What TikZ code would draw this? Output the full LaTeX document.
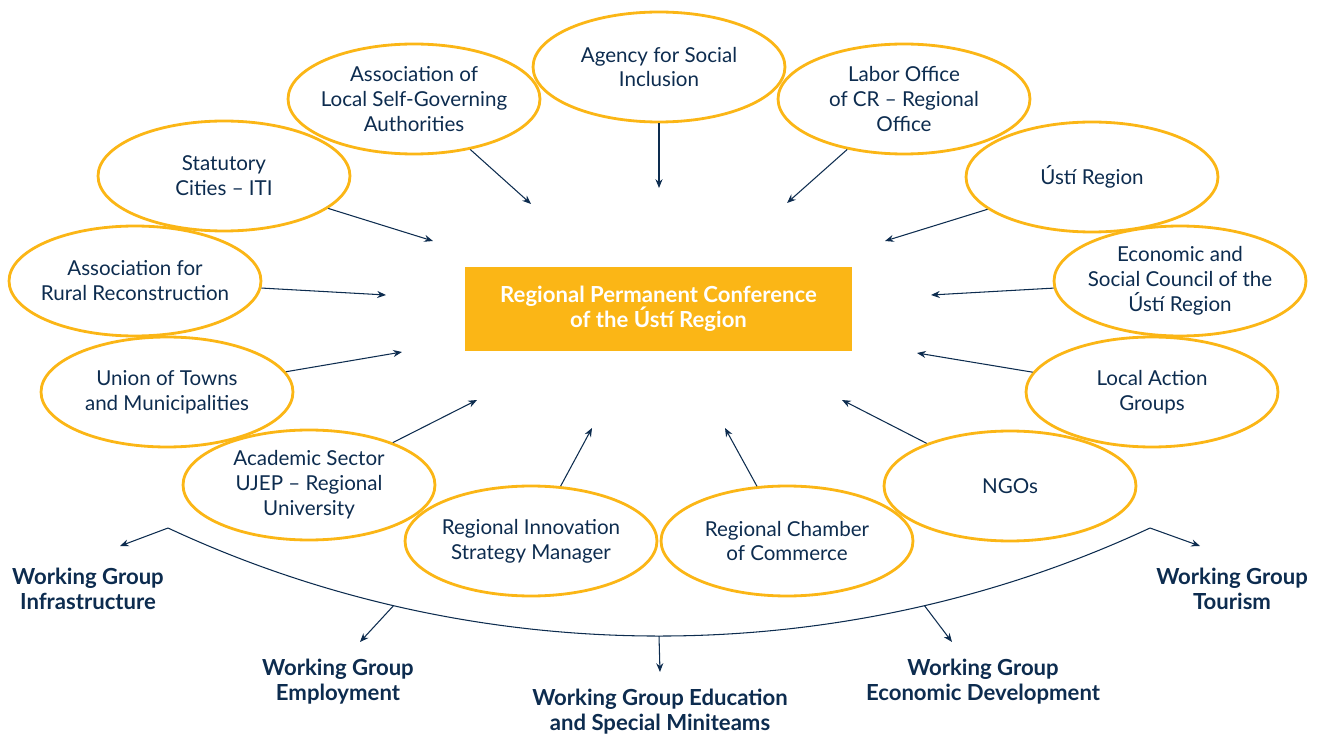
\documentclass[tikz,border=0pt]{standalone}
\usepackage{fontspec}
\setmainfont{Lato}
\usetikzlibrary{shapes.geometric,arrows.meta}
\definecolor{gold}{HTML}{FBB616}
\definecolor{navy}{HTML}{0D2C4F}
\begin{document}
\begin{tikzpicture}[x=0.02cm, y=-0.02cm, >={Stealth[length=5pt,width=4pt]},
  member/.style={draw=gold, line width=1.6pt, ellipse, inner xsep=-15pt, inner ysep=0pt, minimum width=5.04cm, minimum height=2.2cm, align=center, text=navy, font=\fontsize{11.7}{14.2}\selectfont},
  group/.style={align=center, text=navy, font=\fontsize{12.6}{14.2}\selectfont\bfseries},
  link/.style={->, navy, line width=0.6pt}]

 \useasboundingbox (0,0) rectangle (1318,736);

 % centre
 \node[fill=gold, minimum width=7.74cm, minimum height=1.68cm, align=center, text=white, font=\fontsize{12.6}{14.2}\selectfont\bfseries] (rpc) at (658.5,309) {Regional Permanent Conference\\of the Ústí Region};

 % members
 \node[member] (asi) at (659,67) {Agency for Social\\Inclusion};
 \node[member] (alsa) at (414,99) {Association of\\Local Self-Governing\\Authorities};
 \node[member] (labor) at (904,99) {Labor Office\\of CR -- Regional\\Office};
 \node[member] (cities) at (224,176) {Statutory\\Cities -- ITI};
 \node[member] (usti) at (1092,177) {Ústí Region};
 \node[member] (rural) at (135,281) {Association for\\Rural Reconstruction};
 \node[member] (esc) at (1180,281) {Economic and\\Social Council of the\\Ústí Region};
 \node[member] (towns) at (167,392) {Union of Towns\\and Municipalities};
 \node[member] (lag) at (1152,392) {Local Action\\Groups};
 \node[member] (ujep) at (309,485) {Academic Sector\\UJEP -- Regional\\University};
 \node[member] (ngo) at (1010,486) {NGOs};
 \node[member] (ris) at (531,541) {Regional Innovation\\Strategy Manager};
 \node[member] (chamber) at (787,541) {Regional Chamber\\of Commerce};

 % arrow ends round the centre
 \coordinate (e1) at (659,188);
 \coordinate (e2) at (531,204);
 \coordinate (e3) at (787,203);
 \coordinate (e4) at (433,241);
 \coordinate (e5) at (885,241);
 \coordinate (e6) at (386,295);
 \coordinate (e7) at (931,295);
 \coordinate (e8) at (402,352);
 \coordinate (e9) at (917,353);
 \coordinate (e10) at (477,400);
 \coordinate (e11) at (842,400);
 \coordinate (e12) at (592,428);
 \coordinate (e13) at (725,428);

 \draw[link] (asi)--(e1);
 \draw[link] (alsa)--(e2);
 \draw[link] (labor)--(e3);
 \draw[link] (cities)--(e4);
 \draw[link] (usti)--(e5);
 \draw[link] (rural)--(e6);
 \draw[link] (esc)--(e7);
 \draw[link] (towns)--(e8);
 \draw[link] (lag)--(e9);
 \draw[link] (ujep)--(e10);
 \draw[link] (ngo)--(e11);
 \draw[link] (ris)--(e12);
 \draw[link] (chamber)--(e13);

 % working groups
 \node[group] (infra) at (88,589) {Working Group\\Infrastructure};
 \node[group] (employ) at (338,682) {Working Group\\Employment};
 \node[group] (edu) at (660,712) {Working Group Education\\and Special Miniteams};
 \node[group] (econ) at (983,682) {Working Group\\Economic Development};
 \node[group] (tour) at (1232,589) {Working Group\\Tourism};

 \coordinate (arcl) at (168,528);
 \coordinate (arcr) at (1150,528);
 \draw[navy, line width=0.6pt] (arcl) to[bend right=25, looseness=0.89]
   coordinate[pos=0.235] (arc1) coordinate[pos=0.5] (arc2) coordinate[pos=0.765] (arc3) (arcr);

 \coordinate (g1) at (120,546);
 \coordinate (g2) at (360,642);
 \coordinate (g3) at (660,672);
 \coordinate (g4) at (952,642);
 \coordinate (g5) at (1200,546);

 \draw[link] (arcl)--(g1);
 \draw[link] (arc1)--(g2);
 \draw[link] (arc2)--(g3);
 \draw[link] (arc3)--(g4);
 \draw[link] (arcr)--(g5);

\end{tikzpicture}
\end{document}
